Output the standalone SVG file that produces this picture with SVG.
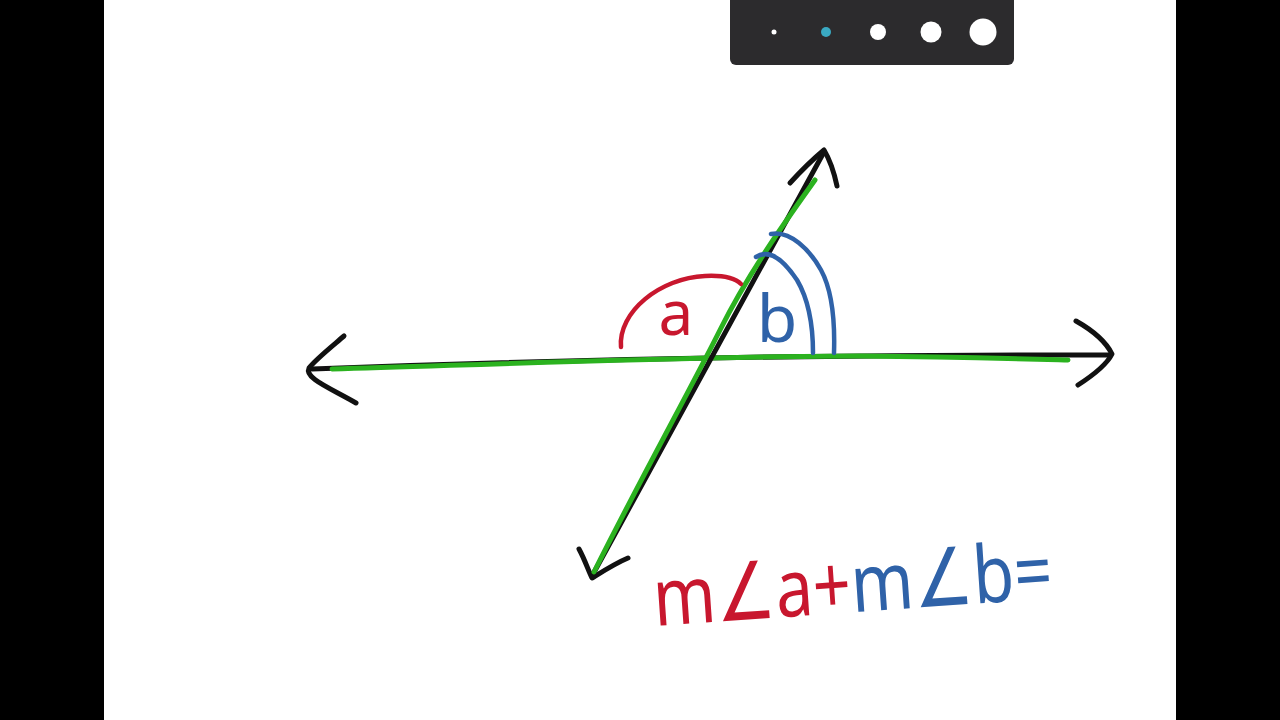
<svg xmlns="http://www.w3.org/2000/svg" width="1280" height="720" viewBox="0 0 1280 720">
<style>
.ink{fill:none;stroke-linecap:round;stroke-linejoin:round}
.blk{stroke:#111;stroke-width:5}
.grn{stroke:#2bb21f;stroke-width:5}
.red{stroke:#c8172e;stroke-width:4.5}
.blu{stroke:#2f62a8;stroke-width:4.5}
.lbl{font-family:"Noto Sans","DejaVu Sans",sans-serif}
</style>
<rect x="0" y="0" width="1280" height="720" fill="#000"/>
<rect x="104" y="0" width="1072" height="720" fill="#fff"/>
<g id="toolbar">
<path d="M730,0 H1014 V59 a6,6 0 0 1 -6,6 H736 a6,6 0 0 1 -6,-6 Z" fill="#2c2b2d"/>
<circle cx="774" cy="32" r="2.5" fill="#fff"/>
<circle cx="826" cy="32" r="5" fill="#3aa9c2"/>
<circle cx="878" cy="32" r="8" fill="#fff"/>
<circle cx="931" cy="32" r="10.5" fill="#fff"/>
<circle cx="983" cy="32" r="13.5" fill="#fff"/>
</g>
<g id="horizontal-line">
<path class="ink blk" d="M312,369 C500,362 800,354 1110,355"/>
<path class="ink blk" d="M344,336 C330,348 315,360 309,368 C304,378 330,388 356,403"/>
<path class="ink blk" d="M1076,321 C1092,330 1106,342 1112,354 C1106,366 1092,376 1078,385"/>
<path class="ink grn" d="M332,369 C500,364 700,356 860,356 C960,357 1030,359 1068,360"/>
</g>
<g id="transversal">
<path class="ink blk" d="M592,576 C650,470 700,380 824,152"/>
<path class="ink blk" d="M790,183 C800,172 812,160 824,150 C830,160 834,172 837,186"/>
<path class="ink blk" d="M579,549 C585,560 588,570 592,578 C605,570 616,563 628,558"/>
<path class="ink grn" d="M594,572 C640,480 690,390 720,330 C750,270 790,215 815,180"/>
</g>
<g id="angle-a">
<path class="ink red" d="M621,347 C618,312 660,278 705,276 C725,275 736,279 741,284"/>
<text class="lbl" x="676" y="335" font-size="62" fill="#c8172e" text-anchor="middle">a</text>
</g>
<g id="angle-b">
<path class="ink blu" d="M756,257 C770,248 785,262 797,280 C810,302 813,330 813,353"/>
<path class="ink blu" d="M771,234 C790,230 810,250 821,270 C833,292 835,322 834,353"/>
<text class="lbl" x="777" y="342" font-size="66" fill="#2f62a8" text-anchor="middle">b</text>
</g>
<g id="equation">
<text class="lbl" x="655" y="626" font-size="80" transform="rotate(-4 655 626)" textLength="400" lengthAdjust="spacingAndGlyphs"><tspan fill="#c8172e">m∠a+</tspan><tspan fill="#2f62a8">m∠b=</tspan></text>
</g>
</svg>
